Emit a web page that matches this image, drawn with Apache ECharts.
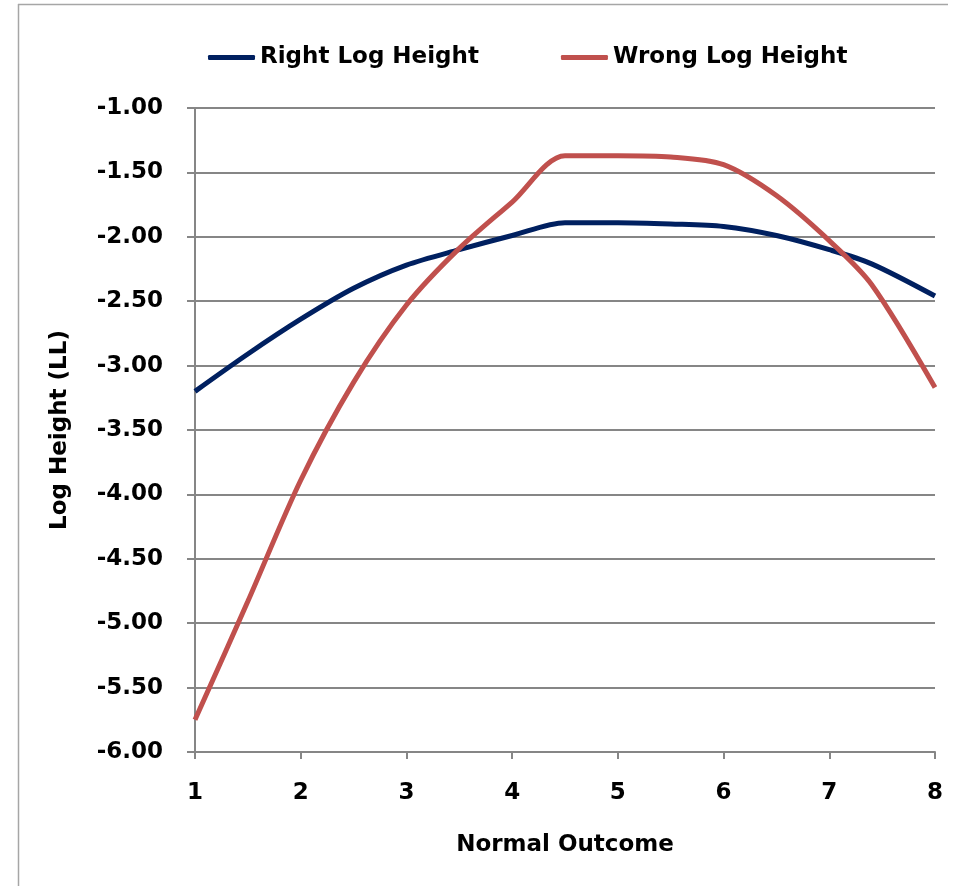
<!DOCTYPE html>
<html>
<head>
<meta charset="utf-8">
<script src="https://cdn.jsdelivr.net/npm/echarts@6/dist/echarts.min.js"></script>
<style>
html,body{margin:0;padding:0;background:#fff;}
#chart{width:954px;height:886px;}
</style>
</head>
<body>
<div id="chart"></div>
<script>
var xValues = [1, 1.5, 2, 2.5, 3, 3.5, 4, 4.5, 5, 5.5, 6, 6.5, 7, 7.4, 8];
var rightLogHeight = [-3.20, -2.91, -2.64, -2.40, -2.22, -2.10, -1.99, -1.89, -1.89, -1.90, -1.92, -1.99, -2.10, -2.21, -2.46];
var wrongLogHeight = [-5.75, -4.83, -3.89, -3.13, -2.53, -2.09, -1.73, -1.37, -1.37, -1.38, -1.44, -1.68, -2.03, -2.37, -3.17];
var seriesNames = ['Right Log Height', 'Wrong Log Height'];
var xAxisTitle = 'Normal Outcome';
var yAxisTitle = 'Log Height (LL)';

function pairs(xs, ys){ return xs.map(function(x,i){ return [x, ys[i]]; }); }

var FONT = 'DejaVu Sans';
var chart = echarts.init(document.getElementById('chart'), null, {renderer:'canvas'});
chart.setOption({
  animation:false,
  backgroundColor:'#ffffff',
  graphic:[
    {type:'line', shape:{x1:18, y1:4.5, x2:948, y2:4.5}, style:{stroke:'#a6a6a6', lineWidth:1.5}},
    {type:'line', shape:{x1:18.5, y1:4, x2:18.5, y2:886}, style:{stroke:'#a6a6a6', lineWidth:1.5}}
  ],
  legend:{
    top:41, left:203,
    itemWidth:47, itemHeight:5, itemGap:82,
    icon:'roundRect',
    textStyle:{fontFamily:FONT, fontWeight:'bold', fontSize:23, color:'#000'},
    data:seriesNames
  },
  grid:{left:195, right:19, top:108, bottom:134, containLabel:false},
  xAxis:{
    type:'value', min:1, max:8, interval:1,
    name:xAxisTitle, nameLocation:'middle', nameGap:82,
    nameTextStyle:{fontFamily:FONT, fontWeight:'bold', fontSize:23, color:'#000'},
    axisLine:{show:true, onZero:false, lineStyle:{color:'#868686', width:2}},
    axisTick:{show:true, inside:false, length:7, lineStyle:{color:'#868686', width:2}},
    axisLabel:{margin:30, fontFamily:FONT, fontWeight:'bold', fontSize:23, color:'#000'},
    splitLine:{show:false}
  },
  yAxis:{
    type:'value', min:-6, max:-1, interval:0.5,
    name:yAxisTitle, nameLocation:'middle', nameGap:123, nameRotate:90,
    nameTextStyle:{fontFamily:FONT, fontWeight:'bold', fontSize:23, color:'#000'},
    axisLine:{show:true, lineStyle:{color:'#868686', width:2}},
    axisTick:{show:true, inside:false, length:8, lineStyle:{color:'#868686', width:2}},
    axisLabel:{margin:32, fontFamily:FONT, fontWeight:'bold', fontSize:23, color:'#000',
      formatter:function(v){ return v.toFixed(2); }},
    splitLine:{show:true, lineStyle:{color:'#868686', width:2}}
  },
  series:[
    {name:seriesNames[0], type:'line', data:pairs(xValues, rightLogHeight), smooth:0.3,
     showSymbol:false, lineStyle:{color:'#002060', width:5}, itemStyle:{color:'#002060'}},
    {name:seriesNames[1], type:'line', data:pairs(xValues, wrongLogHeight), smooth:0.3,
     showSymbol:false, lineStyle:{color:'#C0504D', width:5}, itemStyle:{color:'#C0504D'}}
  ]
});
</script>
</body>
</html>
